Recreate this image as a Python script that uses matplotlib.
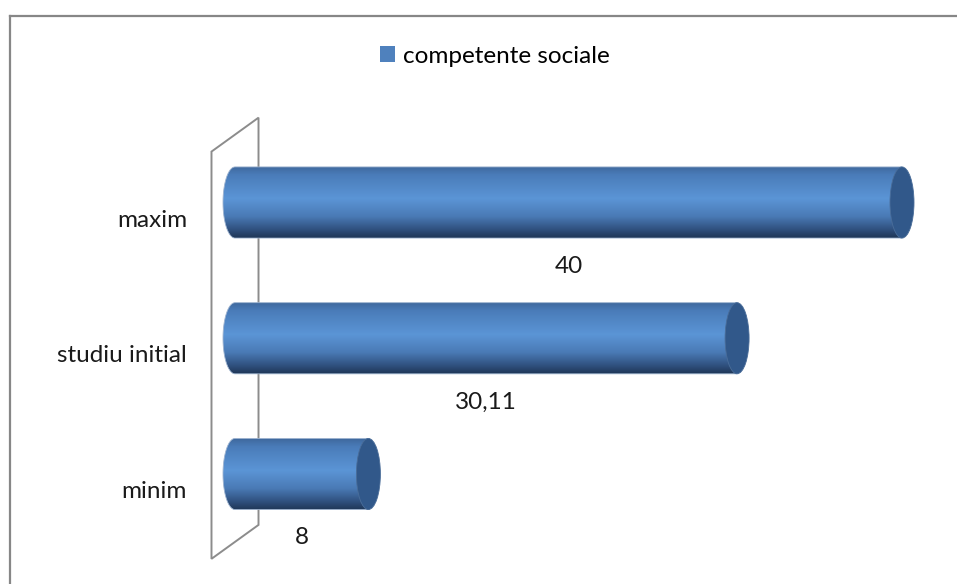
import numpy as np
import matplotlib
matplotlib.use("Agg")
import matplotlib.pyplot as plt
from matplotlib.patches import Ellipse, Polygon, PathPatch, Rectangle
from matplotlib.path import Path
from matplotlib.lines import Line2D
from matplotlib.colors import LinearSegmentedColormap

# data
categories = ["minim", "studiu initial", "maxim"]
values = [8, 30.11, 40]
value_labels = ["8", "30,11", "40"]
series_name = "competente sociale"

FONT = "Lato"
FS = 17.5
W, H = 957, 584

fig = plt.figure(figsize=(W / 100, H / 100), dpi=100, facecolor="white")
ax = fig.add_axes([0, 0, 1, 1])

# pixel scale of the plot area (value 0 at x=235px, category 0 at y=110px from bottom)
px_per_val = 16.675
px_per_cat = 135.75
x0_px, y0_px = 235, 110
ax.axis("off")

# back wall (3D panel)
wall_dx = 1.41
wall_skew = 0.125
n = len(categories)
wall = Polygon([(-wall_dx, -0.5 - wall_skew), (wall_dx, -0.5 + wall_skew),
                (wall_dx, n - 0.5 + wall_skew), (-wall_dx, n - 0.5 - wall_skew)],
               closed=True, facecolor="none", edgecolor="#8c8c8c", lw=1.4, zorder=1)
ax.add_patch(wall)

# cylinder shading
body_cmap = LinearSegmentedColormap.from_list("cyl", [
    (0.0, "#3e679c"), (0.12, "#4a7cb9"), (0.45, "#5b95d6"),
    (0.7, "#4a7ab5"), (0.88, "#30517f"), (1.0, "#1f3656")])
cap_color = "#31588a"
half_h = 0.262
rx = 0.72
grad = np.linspace(0, 1, 256).reshape(-1, 1)

for i, v in enumerate(values):
    t = np.linspace(np.pi / 2, 3 * np.pi / 2, 40)
    left = np.column_stack([rx * np.cos(t), i + half_h * np.sin(t)])
    verts = np.vstack([[[v, i + half_h]], left, [[v, i - half_h]], [[v, i + half_h]]])
    codes = [Path.MOVETO] + [Path.LINETO] * (len(verts) - 2) + [Path.CLOSEPOLY]
    body = PathPatch(Path(verts, codes), facecolor="none", edgecolor="#9db3d0",
                     lw=0.6, zorder=3)
    ax.add_patch(body)
    im = ax.imshow(grad, cmap=body_cmap, aspect="auto", origin="upper",
                   extent=(-rx, v, i - half_h, i + half_h), zorder=2,
                   interpolation="bilinear")
    im.set_clip_path(body)
    ax.add_patch(Ellipse((v, i), 2 * rx, 2 * half_h, facecolor=cap_color,
                         edgecolor="#4a6d99", lw=0.6, zorder=4))
    # value label under the bar
    ax.text(v / 2, i - 0.47, value_labels[i], ha="center", va="center",
            fontsize=FS, family=FONT, color="#1a1a1a")
    # category label
    ax.text(-2.88, i - 0.13, categories[i], ha="right", va="center",
            fontsize=FS, family=FONT, color="#1a1a1a")

ax.set_xlim(-x0_px / px_per_val, (W - x0_px) / px_per_val)
ax.set_ylim(-y0_px / px_per_cat, (H - y0_px) / px_per_cat)

# legend
handle = Rectangle((0, 0), 1, 1, facecolor="#4f81bd", edgecolor="none")
fig.legend([handle], [series_name], loc="center", bbox_to_anchor=(0.517, 0.904),
           frameon=False, handlelength=0.62, handleheight=0.62, handletextpad=0.3,
           prop={"family": FONT, "size": FS})

# chart area border (top and left visible)
fig.add_artist(Line2D([10 / W, 1], [1 - 16 / H, 1 - 16 / H], color="#878787", lw=1.6))
fig.add_artist(Line2D([10 / W, 10 / W], [0, 1 - 16 / H], color="#878787", lw=1.6))

fig.savefig("out.png", dpi=100)
